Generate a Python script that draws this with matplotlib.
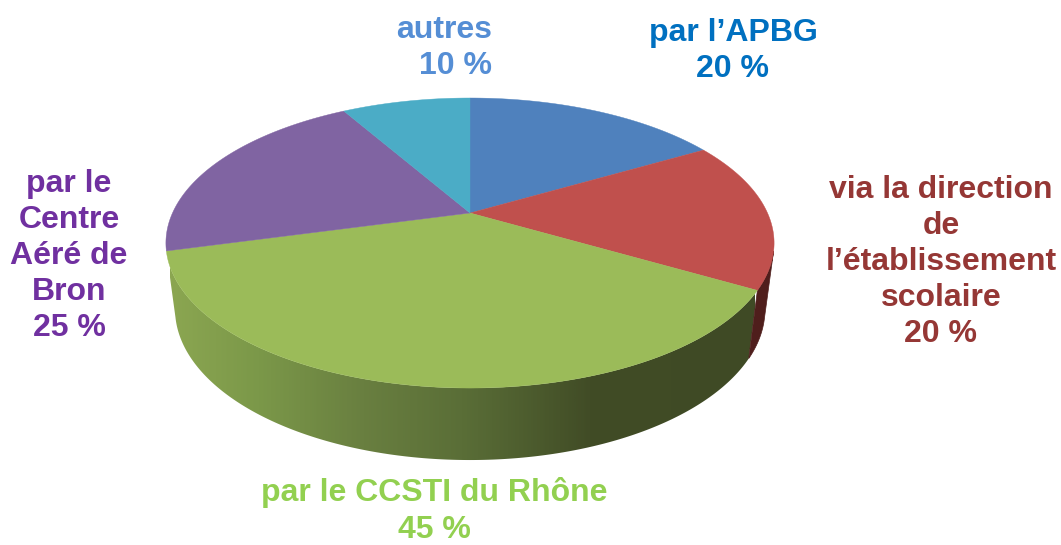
import numpy as np
import matplotlib
matplotlib.use("Agg")
import matplotlib.pyplot as plt
from matplotlib.patches import Polygon
from matplotlib.colors import LinearSegmentedColormap

plt.rcParams['font.family'] = ['Liberation Sans', 'DejaVu Sans']

# values as printed on the chart (they add up to 120, the slices are normalised)
labels = ["par l’APBG\n20 %",
          "via la direction\nde\nl’établissement\nscolaire\n20 %",
          "par le CCSTI du Rhône\n45 %",
          "par le\nCentre\nAéré de\nBron\n25 %",
          "autres\n10 %"]
values = [20, 20, 45, 25, 10]
colors = ["#4F81BD", "#C0504D", "#9BBB59", "#8064A2", "#4BACC6"]
label_colors = ["#0070C0", "#953735", "#92D050", "#7030A0", "#558ED5"]


# perspective of the disc, in picture pixels
def top(theta):
    x, y = np.sin(theta), np.cos(theta)
    w = 1 + 0.207 * y
    return 470 + 297.5 * x / w, 213 - 138.8 * y / w


def base(theta):
    x, y = top(theta)
    return 470 + 0.97 * (x - 470), 278 + 1.04 * (y - 213)


def arc(a, b):
    return np.linspace(a, b, max(int(abs(b - a) * 100), 2))


def wall(a, b):
    t = arc(a, b)
    x1, y1 = top(t)
    x2, y2 = base(t[::-1])
    return np.column_stack([np.r_[x1, x2], np.r_[y1, y2]])


fig = plt.figure(figsize=(10.61, 5.45), dpi=100)
ax = fig.add_axes([0, 0, 1, 1])

edges = np.r_[0, np.cumsum(values)] / sum(values) * 2 * np.pi

# side walls, gradient runs left to right
ramp = [(0.00, "#8BA651"), (0.15, "#7B9849"), (0.33, "#697F40"),
        (0.50, "#5A6E37"), (0.72, "#414C26"), (1.00, "#3F4A25")]
cmap = LinearSegmentedColormap.from_list("green_wall", ramp)
grad = np.linspace(0, 1, 400).reshape(1, -1)
im = ax.imshow(grad, cmap=cmap, extent=[170, 755, 470, 240], aspect="auto", zorder=1)
green_wall = Polygon(wall(edges[2], edges[3]), closed=True, transform=ax.transData)
im.set_clip_path(green_wall)

ax.fill(*wall(np.radians(105), edges[2]).T, color="#4F1E1C", lw=0.5, zorder=1)

# top face
for i, c in enumerate(colors):
    t = arc(edges[i], edges[i + 1])
    x, y = top(t)
    ax.fill(np.r_[470, x], np.r_[213, y], color=c, lw=0.3, zorder=2)

text_style = dict(fontsize=23, fontweight="bold", va="center", linespacing=1.265)
ax.text(733, 51, labels[0], color=label_colors[0], ha="center", **text_style)
ax.text(941, 262, labels[1], color=label_colors[1], ha="center", **text_style)
ax.text(434, 511, labels[2], color=label_colors[2], ha="center", **text_style)
ax.text(69, 256, labels[3], color=label_colors[3], ha="center", **text_style)
ax.text(492, 48, labels[4], color=label_colors[4], ha="right", multialignment="right", **text_style)

ax.set_xlim(0, 1061)
ax.set_ylim(545, 0)
ax.axis("off")
fig.savefig("out.png", dpi=100)
